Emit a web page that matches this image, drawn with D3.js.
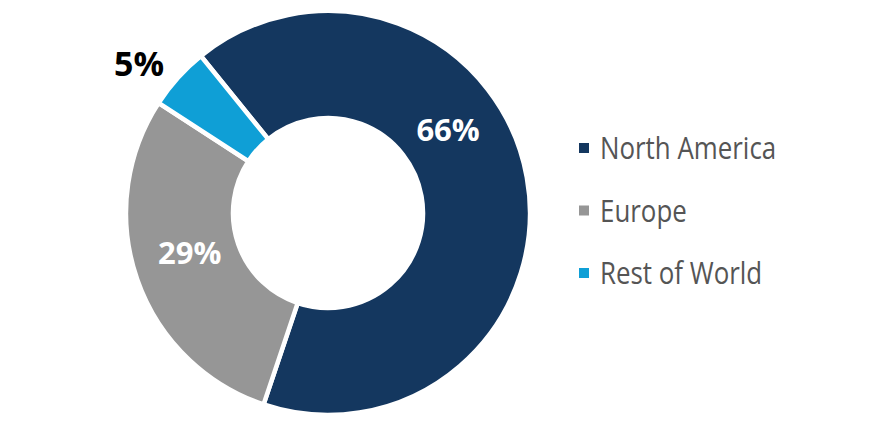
<!DOCTYPE html>
<html>
<head>
<meta charset="utf-8">
<script src="https://cdn.jsdelivr.net/npm/d3@7"></script>
<style>
  body { margin: 0; background: #fff; }
  svg { display: block; }
</style>
</head>
<body>
<script>
// regions and their share
const regions = ["North America", "Europe", "Rest of World"];
const shares = [66, 29, 5];
const colors = ["#14375f", "#969696", "#0f9fd6"];
const labelColors = ["#fff", "#fff", "#000"];

const width = 880, height = 430;
const cx = 328, cy = 213;
const outerR = 202, innerR = 95;
// where in each slice the label goes (fraction along the slice, radius, size)
const labelFrac = [0.397, 0.53, 0.3];
const labelR = [146, 144, 241];
const labelSize = [31, 31, 34];

const svg = d3.select("body").append("svg")
  .attr("width", width)
  .attr("height", height);

const startA = -39 * Math.PI / 180;
const pie = d3.pie().sort(null)
  .startAngle(startA)
  .endAngle(startA + 2 * Math.PI);
const arcs = pie(shares);
const arc = d3.arc().innerRadius(innerR).outerRadius(outerR);

const g = svg.append("g").attr("transform", `translate(${cx},${cy})`);

g.selectAll("path")
  .data(arcs)
  .enter()
  .append("path")
  .attr("d", arc)
  .attr("fill", (d, i) => colors[i])
  .attr("stroke", "#fff")
  .attr("stroke-width", 4.5)
  .attr("stroke-linejoin", "miter");

g.selectAll("text.pct")
  .data(arcs)
  .enter()
  .append("text")
  .attr("class", "pct")
  .attr("transform", (d, i) => {
    var a = d.startAngle + (d.endAngle - d.startAngle) * labelFrac[i];
    var x = Math.sin(a) * labelR[i], y = -Math.cos(a) * labelR[i];
    return `translate(${x},${y})`;
  })
  .attr("text-anchor", "middle")
  .attr("dy", "0.36em")
  .attr("font-family", "Open Sans, sans-serif")
  .attr("font-weight", "bold")
  .attr("font-size", (d, i) => labelSize[i])
  .attr("fill", (d, i) => labelColors[i])
  .text(d => d.data + "%");

// legend
const legend = svg.append("g").selectAll("g")
  .data(regions)
  .enter()
  .append("g")
  .attr("transform", (d, i) => `translate(579,${148 + i * 62.5})`);
legend.append("rect")
  .attr("x", 0).attr("y", -5)
  .attr("width", 10).attr("height", 10)
  .attr("fill", (d, i) => colors[i]);
legend.append("text")
  .attr("transform", "translate(21,0) scale(0.835,1)")
  .attr("dy", "0.36em")
  .attr("font-family", "Open Sans, sans-serif")
  .attr("font-size", 31)
  .attr("fill", "#555")
  .text(d => d);
</script>
</body>
</html>
